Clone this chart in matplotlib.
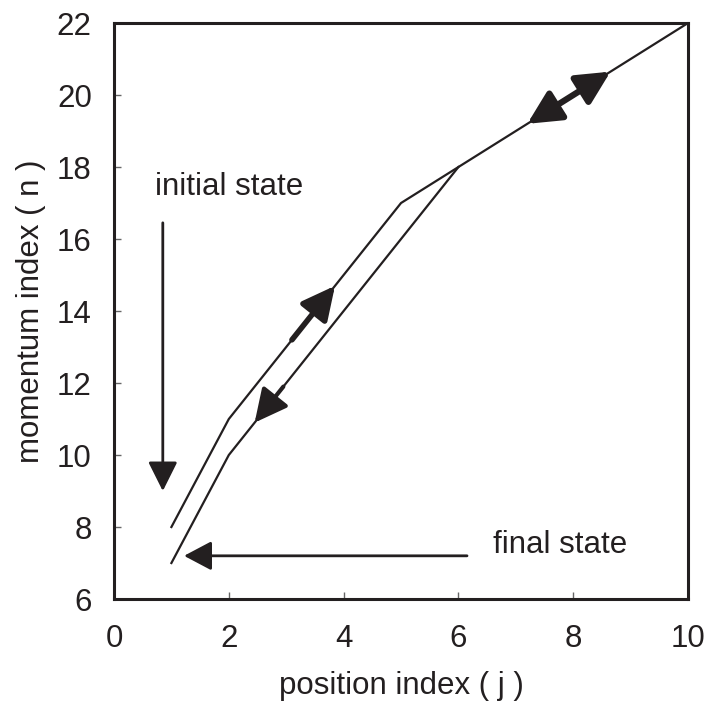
import matplotlib
matplotlib.use("Agg")
import matplotlib.pyplot as plt
from matplotlib.patches import FancyArrowPatch

plt.rcParams['font.family'] = ['Liberation Sans', 'DejaVu Sans']

# data
upper_x = [1, 2, 5, 6, 10]
upper_y = [8, 11, 17, 18, 22]
lower_x = [1, 2, 6]
lower_y = [7, 10, 18]

# arrows on the paths (tail -> head)
up_arrow = ((3.1, 13.2), (3.85, 14.7))
down_arrow = ((2.95, 11.9), (2.45, 10.9))
double_arrow = ((7.2, 19.2), (8.65, 20.65))
initial_arrow = ((0.85, 16.45), (0.85, 9.0))
final_arrow = ((6.15, 7.2), (1.22, 7.2))

xticks = [0, 2, 4, 6, 8, 10]
yticks = [6, 8, 10, 12, 14, 16, 18, 20, 22]

C = '#231f20'
FS = 22.5

fig = plt.figure(figsize=(7.09, 7.02), dpi=100)
ax = fig.add_axes([0.1608, 0.1467, 0.8096, 0.8205])

ax.plot(upper_x, upper_y, color=C, lw=1.6)
ax.plot(lower_x, lower_y, color=C, lw=1.6)

def arrow(t, h, lw, hl, hw, both=False):
    style = '<|-|>' if both else '-|>'
    a = FancyArrowPatch(t, h, arrowstyle=f'{style},head_length={hl},head_width={hw}',
                        color=C, lw=lw, mutation_scale=1, shrinkA=0, shrinkB=0)
    ax.add_patch(a)

arrow(*up_arrow, lw=4, hl=20, hw=10)
arrow(*down_arrow, lw=3, hl=20, hw=10)
arrow(*double_arrow, lw=4.5, hl=20, hw=10, both=True)
arrow(*initial_arrow, lw=2, hl=18, hw=9)
arrow(*final_arrow, lw=2, hl=17, hw=9)

ax.text(0.72, 17.45, 'initial state', fontsize=FS, color=C, va='center', ha='left')
ax.text(6.6, 7.5, 'final state', fontsize=FS, color=C, va='center', ha='left')

ax.set_xlim(0, 10)
ax.set_ylim(6, 22)
ax.set_xticks(xticks)
ax.set_yticks(yticks)
ax.tick_params(direction='in', length=5, width=1, color='#666666', labelsize=FS,
               labelcolor=C)
ax.tick_params(axis='x', pad=18)
ax.tick_params(axis='y', pad=16)
for s in ax.spines.values():
    s.set_linewidth(2.2)
    s.set_color(C)
ax.set_xlabel('position index ( j )', fontsize=FS, color=C, labelpad=12)
ax.set_ylabel('momentum index ( n )', fontsize=FS, color=C, labelpad=8)

fig.savefig('out.png', dpi=100)
